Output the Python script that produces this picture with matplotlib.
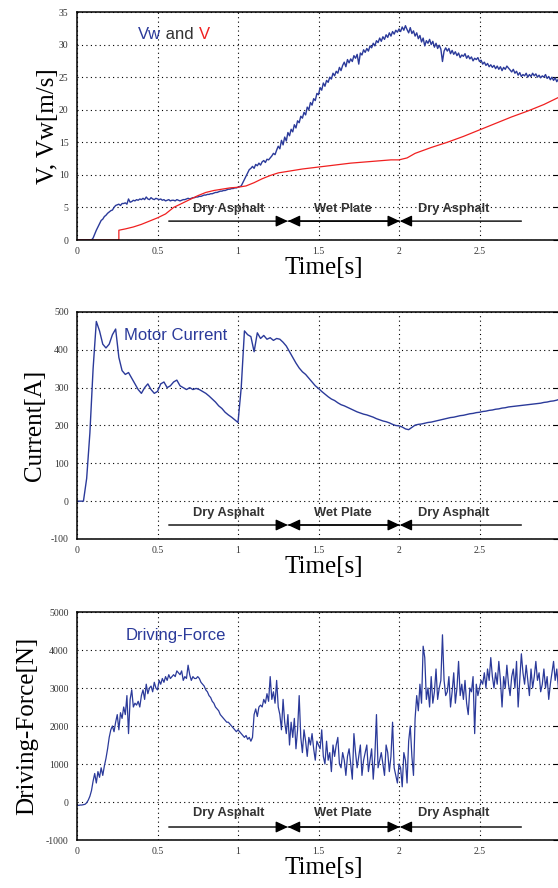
import numpy as np
import matplotlib.pyplot as plt

plt.rcParams['axes.unicode_minus'] = False

BLUE = '#2b3a9a'
RED = '#f02020'
GRAY = '#333333'
SERIF = 'Liberation Serif'
SANS = 'Liberation Sans'

# ---- data ----
t_fine = np.round(np.arange(0, 301) * 0.01, 2)

vw = [0, 0, 0, 0, 0, 0, 0, 0, 0, 0,
      0.3, 0.9, 1.5, 2.0, 2.5, 3.0, 3.2, 3.6, 3.8, 4.1,
      4.3, 4.5, 4.6, 5.0, 5.3, 5.4, 5.5, 5.3, 5.6, 5.6,
      5.7, 5.5, 6.3, 5.8, 5.9, 6.1, 6.0, 6.2, 6.1, 6.3,
      6.2, 6.4, 6.2, 6.6, 6.3, 6.2, 6.5, 6.3, 6.2, 6.4,
      6.3, 6.2, 6.3, 6.1, 6.2, 6.0, 6.1, 6.2, 6.0, 6.1,
      6.1, 6.0, 6.2, 6.1, 6.0, 6.1, 6.2, 6.2, 6.3, 6.4,
      6.3, 6.4, 6.5, 6.5, 6.6, 6.6, 6.7, 6.7, 6.8, 6.9,
      6.9, 7.0, 7.0, 7.1, 7.1, 7.2, 7.3, 7.3, 7.4, 7.5,
      7.5, 7.6, 7.6, 7.7, 7.8, 7.8, 7.9, 7.9, 8.0, 8.0,
      8.1, 8.2, 8.3, 8.8, 9.3, 9.8, 10.3, 10.8, 11.0, 11.3,
      11.0, 11.6, 11.4, 11.8, 11.5, 12.0, 12.2, 11.9, 12.4, 12.3,
      12.6, 12.9, 13.3, 13.1, 13.8, 14.4, 14.0, 15.3, 14.6, 15.8,
      15.2, 16.5, 16.0, 17.0, 16.6, 17.7, 17.2, 18.3, 18.0, 19.0,
      18.7, 19.6, 19.2, 20.4, 20.0, 21.1, 20.7, 21.7, 21.4, 22.5,
      22.3, 23.4, 23.0, 24.1, 23.6, 24.5, 24.2, 25.0, 24.7, 25.6,
      25.2, 25.9, 25.6, 26.5, 26.0, 26.8, 27.3, 26.6, 27.7, 27.2,
      27.8, 27.4, 28.3, 27.9, 28.5, 27.0, 28.7, 28.4, 29.2, 28.8,
      29.4, 29.0, 29.8, 29.5, 30.2, 29.8, 30.6, 30.3, 31.0, 30.5,
      31.2, 30.8, 31.5, 31.1, 31.8, 31.3, 32.0, 31.6, 32.2, 31.9,
      32.4, 32.0, 32.7, 32.2, 32.9, 32.3, 31.8, 32.6, 31.7, 32.1,
      31.3, 31.8, 30.9, 31.4, 30.4, 31.0, 29.8, 30.6, 30.2, 30.8,
      30.0, 30.5, 29.6, 30.2, 29.4, 29.9, 29.3, 27.4, 29.0, 29.5,
      29.0, 29.4, 28.6, 29.1, 28.5, 28.9, 28.3, 28.7, 28.0, 28.4,
      28.2, 28.6, 27.9, 28.3, 27.8, 28.1, 27.5, 27.9, 27.7, 28.0,
      27.4, 27.6, 27.0, 27.3, 26.8, 27.1, 26.6, 26.9, 26.5, 26.8,
      26.3, 26.7, 26.2, 26.6, 26.0, 26.5, 26.2, 26.7, 26.4, 26.1,
      25.8, 26.2, 25.6, 25.9, 25.3, 25.7, 25.1, 25.4, 25.2, 25.6,
      25.0, 25.4, 25.1, 25.6, 25.2, 25.5, 25.0, 25.3, 24.9, 25.2,
      25.0, 25.4, 24.8, 25.1, 24.6, 25.0, 24.5, 24.9, 24.3, 24.7,
      24.5]

t_v = [0, 0.26, 0.26, 0.30, 0.35, 0.40, 0.45, 0.50, 0.55, 0.60, 0.65, 0.70,
       0.75, 0.80, 0.85, 0.90, 0.95, 1.00, 1.05, 1.10, 1.15, 1.20, 1.25, 1.30,
       1.35, 1.40, 1.50, 1.60, 1.70, 1.80, 1.90, 1.95, 2.00, 2.05, 2.10, 2.20,
       2.30, 2.40, 2.50, 2.60, 2.70, 2.80, 2.90, 3.00]
v = [0, 0, 1.5, 1.7, 2.0, 2.4, 2.9, 3.4, 4.0, 5.0, 5.6, 6.2,
     6.8, 7.3, 7.6, 7.8, 8.0, 8.1, 8.3, 8.8, 9.4, 9.9, 10.3, 10.5,
     10.7, 10.9, 11.2, 11.5, 11.8, 12.0, 12.2, 12.3, 12.3, 12.6, 13.3, 14.2,
     15.0, 15.9, 16.9, 17.9, 18.9, 19.8, 20.8, 22.0]

t_cur = np.round(np.arange(0, 151) * 0.02, 2)
current = [0, 0, 0, 60, 180, 350, 475, 450, 415, 405,
           415, 440, 455, 380, 345, 335, 340, 325, 310, 295,
           285, 300, 310, 295, 285, 290, 310, 315, 300, 305,
           315, 320, 305, 300, 295, 300, 295, 298, 295, 290,
           285, 278, 270, 262, 252, 245, 235, 228, 222, 215,
           208, 300, 450, 440, 435, 395, 445, 430, 438, 428,
           432, 425, 430, 428, 420, 410, 395, 380, 365, 352,
           342, 335, 325, 315, 305, 298, 290, 283, 276, 270,
           266, 260, 255, 252, 248, 244, 240, 236, 233, 230,
           228, 225, 222, 218, 215, 212, 210, 207, 203, 200,
           199, 196, 191, 189, 195, 201, 203, 204, 206, 208,
           209, 211, 213, 215, 217, 219, 221, 222, 224, 226,
           227, 229, 231, 232, 234, 235, 237, 238, 240, 241,
           243, 244, 246, 247, 249, 250, 251, 252, 253, 254,
           255, 256, 257, 258, 259, 261, 262, 264, 265, 267,
           270]

force = [-80, -90, -80, -80, -70, -60, -20, 50, 150, 300,
         550, 750, 500, 800, 650, 900, 700, 950, 1150, 1400,
         1700, 1900, 2000, 1850, 2100, 2300, 1900, 2350, 2200, 2500,
         2300, 2800, 1800, 2700, 2950, 2500, 2600, 2550, 2650, 2500,
         2800, 2950, 2700, 3100, 2850, 3000, 3050, 2900, 3150, 3000,
         2950, 3200, 3100, 3250, 3150, 3300, 3200, 3350, 3250, 3300,
         3350, 3300, 3450, 3400, 3350, 3450, 3200, 3300, 3250, 3600,
         3350, 3200, 3300, 3250, 3250, 3300, 3250, 3150, 3100, 3050,
         2950, 2900, 2800, 2750, 2650, 2600, 2500, 2450, 2400, 2300,
         2250, 2200, 2150, 2100, 2100, 2050, 2000, 1950, 1900, 1850,
         1900, 1850, 1800, 1750, 1700, 1750, 1650, 1700, 1600, 1700,
         2300, 2450, 2250, 2500, 2550, 2500, 2700, 2600, 2850, 2650,
         3300, 2700, 2900, 2600, 3200, 2500, 2300, 1900, 2700, 2100,
         1800, 2300, 1500, 2100, 1700, 2200, 1400, 1900, 2800, 1700,
         1300, 1900, 1600, 1200, 1700, 1500, 1800, 1400, 1100, 1600,
         1500, 1400, 1900, 1200, 1000, 1600, 1100, 1300, 800, 1500,
         1200, 1500, 1700, 1000, 900, 1300, 1100, 700, 1200, 1400,
         1000, 600, 1800, 1300, 900, 1200, 1500, 700, 1100, 1300,
         1500, 800, 1100, 1400, 600, 1200, 2300, 900, 1100, 1300,
         1000, 700, 1500, 1300, 800, 1200, 2100, 900, 700, 500,
         1000, 900, 400, 1300, 1100, 500, 1600, 2000, 1200, 700,
         2200, 2800, 2400, 3100, 2600, 4100, 3800, 2700, 3000, 2500,
         3300, 2600, 2900, 3500, 2700, 3000, 3200, 4400, 3200, 2800,
         2900, 3300, 2500, 2900, 3400, 2600, 3000, 3700, 2800, 3100,
         2700, 3200, 2600, 2300, 3000, 2900, 3300, 1800, 3100, 2800,
         3000, 3200, 3100, 3400, 3000, 3500, 3200, 3800, 3300, 3000,
         3400, 3100, 3700, 3200, 2500, 3300, 3000, 3600, 3100, 2800,
         3300, 3500, 3000, 3700, 2500, 3200, 3900, 3400, 3100, 3600,
         3200, 2800, 3500, 3000, 3300, 3700, 3200, 3400, 2900, 3100,
         3500, 3000, 3300, 2700, 3100, 3400, 3700, 3200, 3500, 3000,
         3200]

x_ticks = [0, 0.5, 1, 1.5, 2, 2.5, 3]
x_ticklabels = ['0', '0.5', '1', '1.5', '2', '2.5', '3']
regions = ['Dry Asphalt', 'Wet Plate', 'Dry Asphalt']
region_x = [0.944, 1.652, 2.34]
bounds = [0.57, 1.31, 2.005, 2.76]

fig = plt.figure(figsize=(5.58, 8.88), dpi=100)
W = 483 / 558
L = 77 / 558
ax1 = fig.add_axes([L, 1 - 240 / 888, W, 228 / 888])
ax2 = fig.add_axes([L, 1 - 539 / 888, W, 227 / 888])
ax3 = fig.add_axes([L, 1 - 840 / 888, W, 228 / 888])


def style(ax, ylim, yticks, ylabel, ylab_x):
    ax.set_xlim(0, 3)
    ax.set_ylim(*ylim)
    ax.set_xticks(x_ticks)
    ax.set_xticklabels(x_ticklabels)
    ax.set_yticks(yticks)
    ax.set_yticklabels([str(y) for y in yticks])
    for lab in ax.get_xticklabels() + ax.get_yticklabels():
        lab.set_fontfamily(SERIF)
        lab.set_fontsize(7)
        lab.set_color('#333333')
    ax.tick_params(direction='in', length=5, width=0.8,
                   right=True, top=False, left=False, bottom=False)
    ax.tick_params(axis='y', pad=6)
    ax.tick_params(axis='x', pad=5)
    ax.grid(True, color='black', linestyle=(0, (1, 3)), linewidth=0.8)
    for s in ax.spines.values():
        s.set_linewidth(1.1)
    ax.set_xlabel('Time[s]', fontfamily=SERIF, fontsize=18)
    ax.xaxis.set_label_coords(0.51, -0.075)
    ax.set_ylabel(ylabel, fontfamily=SERIF, fontsize=18)
    ax.yaxis.set_label_coords(ylab_x, 0.5)


def regions_bar(ax, y_arrow, y_text):
    kw = dict(arrowprops=dict(arrowstyle='-|>,head_length=0.6,head_width=0.28',
                              color='black', lw=1.0,
                              mutation_scale=12, shrinkA=0, shrinkB=0))
    ax.annotate('', xy=(bounds[1], y_arrow), xytext=(bounds[0], y_arrow), **kw)
    ax.annotate('', xy=(bounds[1], y_arrow), xytext=(bounds[2], y_arrow), **kw)
    ax.annotate('', xy=(bounds[2], y_arrow), xytext=(bounds[1], y_arrow), **kw)
    ax.annotate('', xy=(bounds[2], y_arrow), xytext=(bounds[3], y_arrow), **kw)
    for name, x in zip(regions, region_x):
        ax.text(x, y_text, name, ha='center', va='center', fontfamily=SANS,
                fontweight='bold', fontsize=9.3, color=GRAY)


# ---- speed ----
ax1.plot(t_fine, vw, color=BLUE, lw=1.0)
ax1.plot(t_v, v, color=RED, lw=0.9)
style(ax1, (0, 35), [0, 5, 10, 15, 20, 25, 30, 35], 'V, Vw[m/s]', -0.038)
regions_bar(ax1, 2.9, 4.75)
t1 = ax1.text(0.38, 31.5, 'Vw', color=BLUE, fontfamily=SANS, fontsize=12,
              va='center')
t2 = ax1.annotate(' and ', xy=(1, 0), xycoords=t1, va='bottom', color=GRAY,
                  fontfamily=SANS, fontsize=12)
ax1.annotate('V', xy=(1, 0), xycoords=t2, va='bottom', color=RED,
             fontfamily=SANS, fontsize=12)

# ---- current ----
ax2.plot(t_cur, current, color=BLUE, lw=1.0)
style(ax2, (-100, 500), [-100, 0, 100, 200, 300, 400, 500], 'Current[A]', -0.064)
regions_bar(ax2, -63, -31)
ax2.text(0.29, 437, 'Motor Current', color=BLUE, fontfamily=SANS,
         fontsize=12, va='center')

# ---- driving force ----
ax3.plot(t_fine, force, color=BLUE, lw=0.9)
style(ax3, (-1000, 5000), [-1000, 0, 1000, 2000, 3000, 4000, 5000],
      'Driving-Force[N]', -0.08)
regions_bar(ax3, -658, -290)
ax3.text(0.30, 4390, 'Driving-Force', color=BLUE, fontfamily=SANS,
         fontsize=12, va='center')

fig.savefig('out.png', dpi=100)
